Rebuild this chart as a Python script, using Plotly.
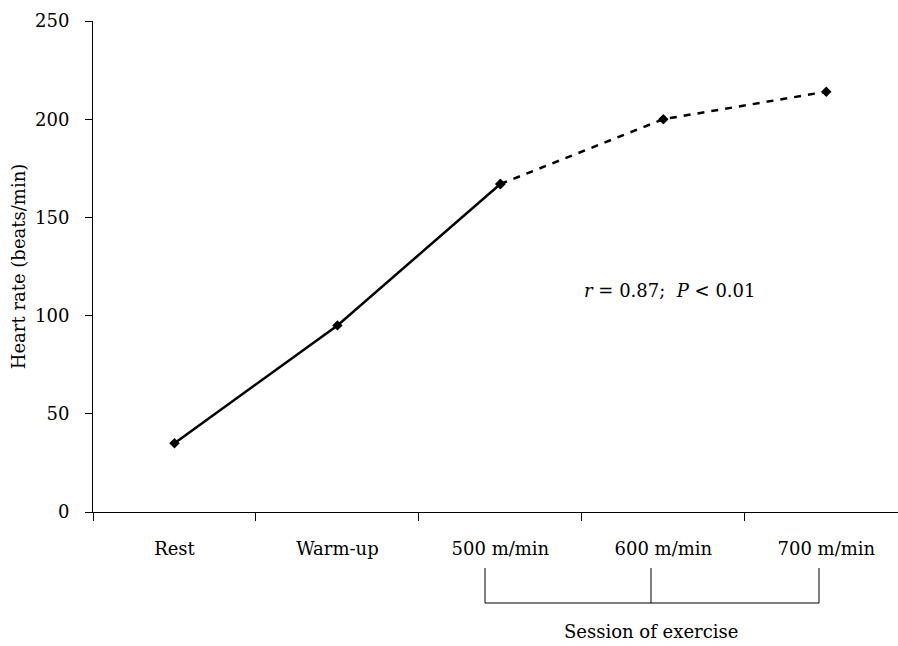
import plotly.graph_objects as go

categories = ["Rest", "Warm-up", "500 m/min", "600 m/min", "700 m/min"]
heart_rate = [35, 95, 167, 200, 214]
y_ticks = [0, 50, 100, 150, 200, 250]

FONT = "DejaVu Serif"
fig = go.Figure()

# solid part: Rest -> 500 m/min
fig.add_trace(go.Scatter(
    x=categories[:3], y=heart_rate[:3], mode="lines+markers",
    line=dict(color="black", width=2.5),
    marker=dict(symbol="diamond", size=8, color="black"),
    showlegend=False, hoverinfo="skip"))
# dashed part: 500 -> 700 m/min
fig.add_trace(go.Scatter(
    x=categories[2:], y=heart_rate[2:], mode="lines+markers",
    line=dict(color="black", width=2.5, dash="7px,7px"),
    marker=dict(symbol="diamond", size=8, color="black"),
    showlegend=False, hoverinfo="skip"))

fig.update_layout(
    width=898, height=646,
    margin=dict(l=93, r=0, t=21, b=134),
    paper_bgcolor="white", plot_bgcolor="white",
    font=dict(family=FONT, size=18, color="black"),
    xaxis=dict(
        type="category", categoryorder="array", categoryarray=categories,
        range=[-0.5, 4.44], tickson="boundaries",
        showline=True, linecolor="black", linewidth=1,
        ticks="outside", ticklen=8, tickcolor="black", tickwidth=1,
        showgrid=False, zeroline=False, ticklabelstandoff=20,
        tickfont=dict(family=FONT, size=18),
    ),
    yaxis=dict(
        range=[0, 250], tickvals=y_ticks,
        showline=True, linecolor="black", linewidth=1,
        ticks="outside", ticklen=7, tickcolor="black", tickwidth=1,
        showgrid=False, zeroline=False, ticklabelstandoff=12,
        tickfont=dict(family=FONT, size=18),
        title=dict(text="Heart rate (beats/min)", standoff=4,
                   font=dict(family=FONT, size=18)),
    ),
)

# statistics annotation
fig.add_annotation(
    x=0.608, y=113, xref="paper", yref="y", xanchor="left", yanchor="middle",
    text="<i>r</i> = 0.87;&nbsp;&nbsp;<i>P</i> &lt; 0.01", showarrow=False,
    font=dict(family=FONT, size=18, color="black"))

# bracket for session of exercise
bx = [(485 - 93) / 805, (651 - 93) / 805, (819 - 93) / 805]
ytop = (512 - 568) / 491
ybot = (512 - 603) / 491
for xv in bx:
    fig.add_shape(type="line", xref="paper", yref="paper",
                  x0=xv, x1=xv, y0=ytop, y1=ybot,
                  line=dict(color="black", width=1))
fig.add_shape(type="line", xref="paper", yref="paper",
              x0=bx[0], x1=bx[2], y0=ybot, y1=ybot,
              line=dict(color="black", width=1))
fig.add_annotation(
    x=bx[1], y=(512 - 632) / 491, xref="paper", yref="paper",
    xanchor="center", yanchor="middle", text="Session of exercise",
    showarrow=False, font=dict(family=FONT, size=18, color="black"))

fig.write_html("out.html", config={"displayModeBar": False},
               post_script="document.body.style.margin='0';document.body.style.overflow='hidden';")
